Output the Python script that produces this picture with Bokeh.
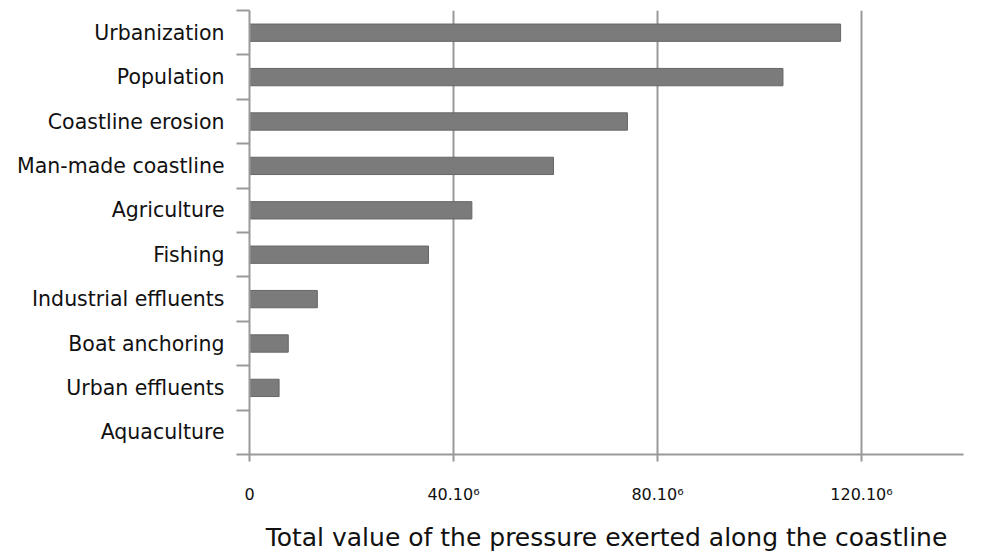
from bokeh.plotting import figure
from bokeh.models import FixedTicker, ColumnDataSource, Range1d
from bokeh.embed import file_html
from bokeh.resources import INLINE

categories = ["Urbanization", "Population", "Coastline erosion", "Man-made coastline",
              "Agriculture", "Fishing", "Industrial effluents", "Boat anchoring",
              "Urban effluents", "Aquaculture"]
values = [115.9, 104.6, 74.1, 59.6, 43.6, 35.1, 13.3, 7.6, 5.8, 0.0]  # in 10^6
x_ticks = [0, 40, 80, 120]
x_tick_labels = ["0", "40.10\u2076", "80.10\u2076", "120.10\u2076"]
x_title = "Total value of the pressure exerted along the coastline"

n = len(categories)
ypos = [n - i - 0.5 for i in range(n)]
src = ColumnDataSource(dict(y=ypos, v=values, cat=categories))

W, H = 976, 554
p = figure(width=W, height=H, output_backend="svg", toolbar_location=None,
           x_range=Range1d(0, 140), y_range=Range1d(0, n),
           min_border_left=249, min_border_right=W - 963, min_border_top=10,
           min_border_bottom=H - 455)
p.outline_line_color = None
p.background_fill_color = "white"
p.border_fill_color = "white"

p.hbar(y="y", right="v", left=0, height=0.39, source=src,
       fill_color="#7b7b7b", line_color="#666666", line_width=1)

# x axis
xa = p.xaxis[0]
xa.ticker = FixedTicker(ticks=x_ticks)
xa.major_label_overrides = {t: l for t, l in zip(x_ticks, x_tick_labels)}
xa.axis_line_color = "#999999"
xa.axis_line_width = 2
xa.major_tick_line_color = "#999999"
xa.major_tick_line_width = 2
xa.major_tick_out = 7
xa.major_tick_in = 0
xa.minor_tick_line_color = None
xa.major_label_text_font = "DejaVu Sans"
xa.major_label_text_font_size = "16px"
xa.major_label_text_color = "#111111"
xa.major_label_standoff = 23
xa.axis_label = x_title
xa.axis_label_text_font = "DejaVu Sans"
xa.axis_label_text_font_size = "25px"
xa.axis_label_text_font_style = "normal"
xa.axis_label_text_color = "#111111"
xa.axis_label_standoff = 16

# y axis
ya = p.yaxis[0]
ya.ticker = FixedTicker(ticks=ypos, minor_ticks=list(range(n + 1)))
ya.major_label_overrides = {y: c for y, c in zip(ypos, categories)}
ya.axis_line_color = "#999999"
ya.axis_line_width = 2
ya.major_tick_line_color = None
ya.major_tick_out = 0
ya.major_tick_in = 0
ya.minor_tick_line_color = "#999999"
ya.minor_tick_line_width = 2
ya.minor_tick_out = 13
ya.minor_tick_in = 0
ya.major_label_text_font = "DejaVu Sans"
ya.major_label_text_font_size = "20.5px"
ya.major_label_text_color = "#111111"
ya.major_label_standoff = 12

p.xgrid.ticker = FixedTicker(ticks=x_ticks[1:])
p.xgrid.grid_line_color = "#999999"
p.xgrid.grid_line_width = 2
p.ygrid.grid_line_color = None

open("out.html", "w").write(file_html(p, INLINE))
